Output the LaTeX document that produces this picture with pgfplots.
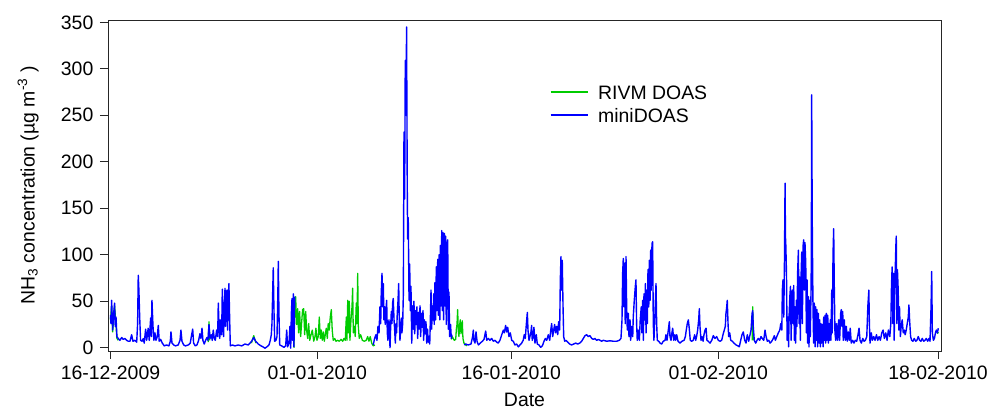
\documentclass[border=0pt]{standalone}
\usepackage{fontspec}
\setmainfont{Liberation Sans}
\usepackage{pgfplots}
\pgfplotsset{compat=1.18}
\definecolor{rivmgreen}{RGB}{0,204,0}
\definecolor{minidoasblue}{RGB}{0,0,255}
\begin{document}
\fontsize{19.5}{23.4}\selectfont
\begin{tikzpicture}
\begin{axis}[
 scale only axis, width=833bp, height=331bp,
 xmin=-0.19, xmax=64.23, ymin=-3.5, ymax=352.5,
 axis line style={black!85, line width=0.8bp},
 tick style={black!85, line width=0.8bp},
 tick align=outside, tick pos=left, major tick length=8bp,
 xtick={0,16,31,47,64},
 xticklabels={16-12-2009,01-01-2010,16-01-2010,01-02-2010,18-02-2010},
 ytick={0,50,...,350},
 /pgf/number format/assume math mode=true,
 xlabel={Date},
 ylabel={NH\textsubscript{3} concentration (µg m\textsuperscript{-3} )},
 xlabel style={at={(axis description cs:0.5,-0.147)}, anchor=center},
 ylabel style={at={(axis description cs:-0.096,0.5)}, anchor=center},
 legend style={draw=none, fill=none, at={(axis description cs:0.5306,0.8036)}, anchor=north west,
   inner sep=0pt, outer sep=0pt, row sep=9bp, column sep=10bp,
   nodes={inner sep=0pt, text height=14bp, text depth=0bp, anchor=west}},
 legend cell align=left,
 legend image code/.code={\draw[#1, line width=1.2bp] (0bp,0bp) -- (37bp,0bp);},
 unbounded coords=jump,
]
\addplot[rivmgreen, line width=1.3bp, line join=round] coordinates {
(0,30)(0.09,45)(0.17,17)(0.32,45)(0.5,10)(0.6,8)(0.61,nan)
(7.56,6)(7.62,28)(7.68,8)(7.69,nan)
(10.9,5)(11.08,13)(11.25,5)(11.26,nan)
(14.19,0)(14.27,51)(14.32,55)(14.40,25)(14.48,42)(14.55,16)(14.63,39)(14.71,12)(14.79,28)(14.86,41)(14.94,42)(15.02,14)(15.10,39)(15.17,19)(15.25,10)(15.33,26)(15.41,8)(15.51,14)(15.61,19)(15.72,7)(15.82,12)(15.89,21)(15.97,8)(16.07,12)(16.15,33)(16.23,10)(16.30,19)(16.38,8)(16.46,17)(16.54,7)(16.61,14)(16.69,21)(16.77,10)(16.84,26)(16.92,19)(17.00,33)(17.08,41)(17.15,19)(17.23,8)(17.34,10)(17.44,7)(17.57,8)(17.70,7)(17.83,9)(17.96,7)(18.06,10)(18.16,8)(18.24,33)(18.29,8)(18.35,51)(18.40,16)(18.47,50)(18.52,8)(18.60,30)(18.68,44)(18.73,64)(18.78,16)(18.86,23)(18.93,12)(19.01,48)(19.06,26)(19.12,80)(19.17,23)(19.24,10)(19.35,14)(19.48,8)(19.63,7)(19.78,8)(19.89,12)(19.99,7)(20.09,12)(20.20,5)(20.32,2)(20.45,3)(20.46,nan)
(26.36,9)(26.43,12)(26.59,8)(26.70,9)(26.75,20)(26.80,25)(26.85,41)(26.90,18)(26.95,12)(27.01,25)(27.05,30)(27.11,15)(27.16,22)(27.21,29)(27.26,10)(27.34,5)(27.47,3)(27.55,2)(27.56,nan)
(49.63,8)(49.67,44)(49.71,8)(49.72,nan)
(63.95,15)(64.02,17)
};
\addlegendentry{RIVM DOAS}
\addplot[minidoasblue, line width=1.4bp, line join=round] coordinates {
(0.00,35)(0.04,26)(0.09,51)(0.17,19)(0.25,37)(0.32,48)(0.37,23)(0.43,33)(0.50,12)(0.60,10)(0.73,8)(0.87,11)(0.99,9)(1.12,10)(1.25,8)(1.38,7)(1.51,7)(1.64,14)(1.74,7)(1.89,8)(2.03,6)(2.10,26)(2.15,78)(2.20,62)(2.26,33)(2.33,8)(2.44,7)(2.54,10)(2.61,5)(2.72,20)(2.80,8)(2.92,21)(3.00,8)(3.11,32)(3.16,12)(3.21,51)(3.29,23)(3.36,8)(3.44,16)(3.52,8)(3.62,12)(3.70,24)(3.77,7)(3.88,9)(4.01,5)(4.16,2)(4.34,3)(4.52,2)(4.63,7)(4.68,17)(4.76,5)(4.89,3)(5.04,2)(5.24,3)(5.38,8)(5.45,19)(5.53,7)(5.66,3)(5.81,2)(6.02,3)(6.17,5)(6.28,14)(6.36,20)(6.43,5)(6.56,2)(6.69,3)(6.82,8)(6.92,15)(7.00,10)(7.08,21)(7.15,8)(7.25,4)(7.36,8)(7.46,11)(7.54,8)(7.62,25)(7.70,10)(7.80,14)(7.87,8)(7.95,19)(8.03,10)(8.11,8)(8.21,19)(8.29,12)(8.34,48)(8.39,26)(8.45,10)(8.52,30)(8.60,14)(8.65,63)(8.70,33)(8.75,12)(8.80,44)(8.86,64)(8.91,23)(8.96,46)(9.01,62)(9.06,19)(9.11,51)(9.16,69)(9.22,30)(9.27,2)(9.42,3)(9.63,2)(9.88,3)(10.15,2)(10.40,4)(10.66,3)(10.92,7)(11.08,11)(11.23,7)(11.43,4)(11.64,2)(11.79,1)(11.95,-0.5)(12.10,1)(12.26,3)(12.36,8)(12.44,14)(12.49,26)(12.59,86)(12.64,44)(12.70,7)(12.80,8)(12.88,12)(12.95,62)(12.98,93)(13.03,37)(13.09,3)(13.24,2)(13.42,0.5)(13.55,2)(13.63,19)(13.70,1)(13.81,5)(13.88,23)(13.94,-0.5)(13.99,37)(14.04,53)(14.09,8)(14.14,58)(14.19,1)(14.25,55)(14.26,nan)
(20.32,3)(20.43,10)(20.53,14)(20.61,8)(20.69,23)(20.77,16)(20.84,44)(20.90,26)(20.94,58)(21.00,80)(21.05,44)(21.10,69)(21.15,30)(21.21,44)(21.25,25)(21.31,41)(21.36,51)(21.41,16)(21.46,8)(21.54,30)(21.62,0)(21.67,23)(21.72,39)(21.77,26)(21.82,48)(21.87,53)(21.93,30)(21.98,19)(22.03,5)(22.08,26)(22.13,16)(22.18,37)(22.24,51)(22.29,69)(22.34,26)(22.39,8)(22.44,19)(22.49,32)(22.54,16)(22.60,26)(22.65,58)(22.70,232)(22.75,160)(22.80,309)(22.85,250)(22.90,345)(22.95,180)(22.98,117)(23.03,140)(23.09,51)(23.14,90)(23.19,40)(23.24,66)(23.30,5)(23.36,45)(23.41,20)(23.47,50)(23.53,15)(23.59,40)(23.64,25)(23.70,44)(23.76,10)(23.82,38)(23.87,20)(23.94,45)(23.99,12)(24.05,37)(24.11,22)(24.17,40)(24.22,8)(24.28,30)(24.34,15)(24.40,28)(24.46,5)(24.52,20)(24.57,6)(24.63,12)(24.69,4)(24.73,25)(24.79,62)(24.84,20)(24.89,45)(24.94,30)(25.00,58)(25.04,25)(25.09,70)(25.15,30)(25.20,87)(25.25,40)(25.31,95)(25.36,35)(25.42,100)(25.47,30)(25.51,110)(25.57,45)(25.62,126)(25.66,40)(25.72,124)(25.77,30)(25.82,123)(25.87,45)(25.92,120)(25.97,25)(26.02,110)(26.08,116)(26.13,20)(26.18,60)(26.23,12)(26.30,25)(26.36,10)(26.41,14)(26.42,nan)
(27.36,3)(27.47,4)(27.67,3)(27.88,4)(28.01,12)(28.06,19)(28.11,8)(28.19,5)(28.27,17)(28.35,7)(28.45,3)(28.60,5)(28.76,7)(28.89,9)(28.96,14)(29.02,18)(29.10,8)(29.22,10)(29.35,8)(29.48,10)(29.61,7)(29.74,8)(29.87,6)(29.99,5)(30.12,8)(30.26,14)(30.38,19)(30.46,16)(30.56,24)(30.64,17)(30.72,22)(30.82,12)(30.92,16)(31.03,8)(31.15,7)(31.28,3)(31.41,4)(31.54,1)(31.67,3)(31.80,5)(31.92,8)(32.00,14)(32.08,10)(32.16,25)(32.24,38)(32.29,19)(32.37,8)(32.44,12)(32.52,17)(32.57,24)(32.62,8)(32.70,12)(32.75,22)(32.83,5)(32.93,14)(33.01,4)(33.14,3)(33.27,0.5)(33.40,2)(33.53,7)(33.63,10)(33.74,8)(33.86,14)(33.97,8)(34.05,19)(34.12,26)(34.20,12)(34.28,19)(34.35,25)(34.43,16)(34.51,23)(34.59,14)(34.66,28)(34.74,19)(34.79,73)(34.84,98)(34.90,62)(34.94,94)(35.00,44)(35.05,12)(35.13,7)(35.23,8)(35.36,6)(35.51,4)(35.67,3)(35.82,4)(35.98,5)(36.13,4)(36.29,5)(36.44,7)(36.57,10)(36.70,13)(36.83,14)(36.95,12)(37.08,13)(37.22,10)(37.34,9)(37.47,10)(37.60,8)(37.73,9)(37.86,8)(37.99,7)(38.11,8)(38.38,7)(38.63,7.5)(38.89,7)(39.15,7)(39.35,8)(39.48,10)(39.56,30)(39.61,80)(39.66,96)(39.71,44)(39.76,91)(39.81,26)(39.87,98)(39.92,44)(39.97,19)(40.05,37)(40.10,12)(40.18,30)(40.23,8)(40.31,23)(40.39,12)(40.43,33)(40.51,51)(40.59,66)(40.64,73)(40.69,26)(40.74,8)(40.82,19)(40.90,8)(40.97,30)(41.05,44)(41.10,16)(41.16,51)(41.21,8)(41.26,58)(41.32,30)(41.37,69)(41.42,16)(41.47,62)(41.52,26)(41.57,84)(41.63,44)(41.67,94)(41.73,51)(41.78,105)(41.82,62)(41.88,112)(41.93,114)(41.98,26)(42.03,8)(42.11,37)(42.19,69)(42.24,26)(42.29,8)(42.40,7)(42.50,5)(42.63,4)(42.75,7)(42.89,8)(42.96,14)(43.04,8)(43.14,19)(43.22,28)(43.27,12)(43.35,8)(43.43,17)(43.48,21)(43.56,8)(43.64,14)(43.71,8)(43.79,14)(43.89,7)(44.05,5)(44.20,7)(44.36,8)(44.46,12)(44.53,19)(44.61,26)(44.69,30)(44.76,21)(44.84,8)(44.95,7)(45.07,8)(45.18,14)(45.26,8)(45.33,12)(45.41,19)(45.49,30)(45.54,42)(45.59,23)(45.67,8)(45.75,12)(45.83,7)(45.90,14)(45.98,19)(46.06,21)(46.13,8)(46.23,7)(46.37,5)(46.50,8)(46.62,13)(46.75,10)(46.88,12)(47.01,8)(47.14,7)(47.27,8)(47.37,14)(47.47,19)(47.55,23)(47.60,37)(47.66,44)(47.70,51)(47.76,26)(47.81,12)(47.89,16)(47.97,8)(48.09,7)(48.22,5)(48.38,3)(48.53,2)(48.63,1)(48.74,8)(48.84,14)(48.94,17)(49.05,8)(49.15,5)(49.25,14)(49.36,7)(49.46,14)(49.54,19)(49.62,37)(49.67,40)(49.71,23)(49.79,8)(49.90,5)(50.00,8)(50.10,10)(50.21,8)(50.31,12)(50.41,10)(50.52,8)(50.62,19)(50.70,12)(50.80,7)(50.91,8)(51.01,5)(51.14,7)(51.26,10)(51.34,13)(51.42,8)(51.53,12)(51.65,16)(51.76,19)(51.84,26)(51.92,19)(51.96,62)(52.01,73)(52.07,33)(52.12,87)(52.17,177)(52.20,120)(52.23,110)(52.28,80)(52.33,8)(52.40,33)(52.44,1)(52.49,37)(52.54,55)(52.59,66)(52.64,8)(52.69,58)(52.73,62)(52.79,26)(52.84,67)(52.89,8)(52.94,44)(52.99,5)(53.04,51)(53.09,23)(53.14,80)(53.20,105)(53.25,26)(53.30,76)(53.35,8)(53.40,73)(53.46,103)(53.51,26)(53.56,109)(53.61,116)(53.66,62)(53.71,113)(53.77,91)(53.82,16)(53.87,73)(53.92,5)(53.97,55)(54.02,1)(54.08,51)(54.12,12)(54.18,62)(54.20,94)(54.23,272)(54.25,200)(54.28,120)(54.33,44)(54.38,5)(54.43,48)(54.49,1)(54.54,44)(54.59,8)(54.64,41)(54.69,1)(54.74,37)(54.80,5)(54.85,30)(54.90,1)(54.95,26)(55.00,5)(55.05,25)(55.11,1)(55.16,33)(55.21,8)(55.26,35)(55.31,5)(55.36,37)(55.41,8)(55.47,35)(55.52,5)(55.57,26)(55.62,8)(55.67,30)(55.72,8)(55.78,62)(55.82,16)(55.88,101)(55.93,128)(55.98,62)(56.03,16)(56.09,8)(56.16,26)(56.24,8)(56.32,30)(56.39,8)(56.47,37)(56.52,41)(56.57,23)(56.63,39)(56.67,8)(56.75,30)(56.83,8)(56.91,23)(56.98,7)(57.06,17)(57.14,8)(57.21,21)(57.29,5)(57.40,8)(57.50,5)(57.60,8)(57.71,7)(57.81,14)(57.89,21)(57.97,8)(58.07,5)(58.18,10)(58.28,7)(58.38,8)(58.49,12)(58.57,44)(58.65,62)(58.69,26)(58.74,5)(58.84,16)(58.92,8)(59.03,12)(59.13,8)(59.24,14)(59.34,8)(59.44,12)(59.54,8)(59.65,16)(59.75,19)(59.85,10)(59.96,16)(60.06,8)(60.16,19)(60.27,12)(60.35,26)(60.40,66)(60.45,87)(60.51,26)(60.56,80)(60.61,8)(60.66,69)(60.71,94)(60.74,110)(60.77,120)(60.82,26)(60.86,84)(60.92,62)(60.97,19)(61.02,44)(61.09,12)(61.15,23)(61.23,30)(61.31,16)(61.39,19)(61.46,14)(61.54,19)(61.62,26)(61.70,33)(61.75,46)(61.80,30)(61.88,12)(61.96,8)(62.06,7)(62.16,10)(62.27,7)(62.37,8)(62.47,12)(62.58,8)(62.68,7)(62.78,10)(62.89,7)(62.99,8)(63.09,10)(63.20,7)(63.30,10)(63.38,7)(63.46,44)(63.51,82)(63.56,16)(63.64,8)(63.72,10)(63.80,16)(63.87,19)(63.95,16)(64.02,21)
};
\addlegendentry{miniDOAS}
\end{axis}
\pgfresetboundingbox
\path ([xshift=-108bp,yshift=-59bp]current axis.south west) rectangle ([xshift=50bp,yshift=20bp]current axis.north east);
\end{tikzpicture}
\end{document}
